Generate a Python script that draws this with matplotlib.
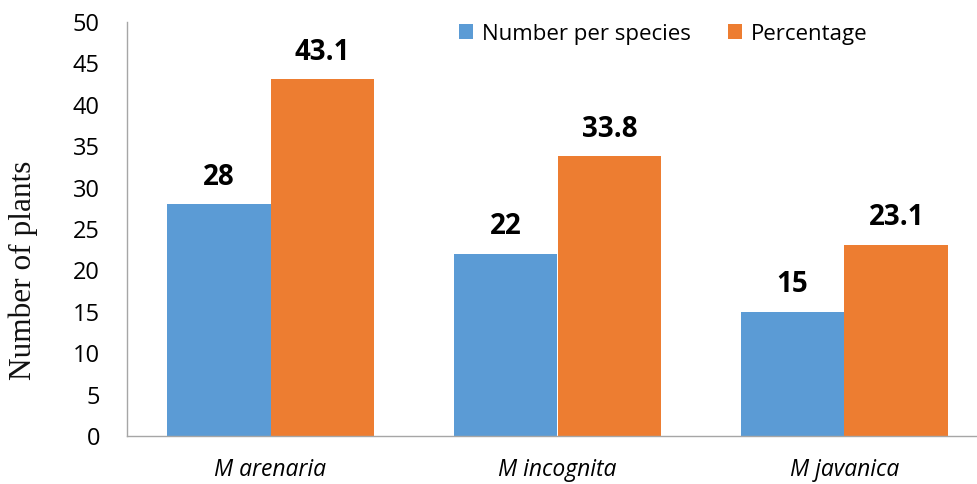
import matplotlib.pyplot as plt
import numpy as np

species = ['M arenaria', 'M incognita', 'M javanica']
number_per_species = [28, 22, 15]
percentage = [43.1, 33.8, 23.1]
number_labels = ['28', '22', '15']
percentage_labels = ['43.1', '33.8', '23.1']

blue = '#5B9BD5'
orange = '#ED7D31'

fig = plt.figure(figsize=(9.77, 4.84), dpi=100)
ax = fig.add_axes([127 / 977, 48 / 484, (988 - 127) / 977, 414 / 484])

x = np.arange(len(species))
w = 0.362
b1 = ax.bar(x - w / 2, number_per_species, w, color=blue, linewidth=0, label='Number per species')
b2 = ax.bar(x + w / 2, percentage, w, color=orange, linewidth=0, label='Percentage')

for bars, labels in ((b1, number_labels), (b2, percentage_labels)):
    for rect, lab in zip(bars, labels):
        ax.annotate(lab, (rect.get_x() + rect.get_width() / 2, rect.get_height()),
                    xytext=(0, 9), textcoords='offset points', ha='center', va='bottom',
                    fontsize=20, fontweight='bold', family='Open Sans')

ax.set_xlim(-0.5, 2.5)
ax.set_ylim(0, 50)
ax.set_yticks(range(0, 51, 5))
ax.set_xticks(x)
ax.set_xticklabels(species, fontsize=16.5, style='italic', family='Open Sans')
for t in ax.get_yticklabels():
    t.set_fontsize(17)
    t.set_family('Open Sans')
ax.tick_params(axis='both', length=0)
ax.tick_params(axis='x', pad=16)
ax.tick_params(axis='y', pad=19.5)

for s in ['top', 'right']:
    ax.spines[s].set_visible(False)
for s in ['left', 'bottom']:
    ax.spines[s].set_color('#A6A6A6')
    ax.spines[s].set_linewidth(1)

ax.set_ylabel('Number of plants', family='Liberation Serif', fontsize=22.5, color='#111111')
ax.yaxis.set_label_coords(-0.121, 0.4)
ax.yaxis.label.set_verticalalignment('center')

ax.legend(loc='center', bbox_to_anchor=(0.623, 0.971), ncol=2, frameon=False,
          prop={'family': 'Open Sans', 'size': 16}, handlelength=0.63, handleheight=0.63,
          columnspacing=1.67, handletextpad=0.4, borderpad=0)

fig.savefig('out.png', dpi=100)
